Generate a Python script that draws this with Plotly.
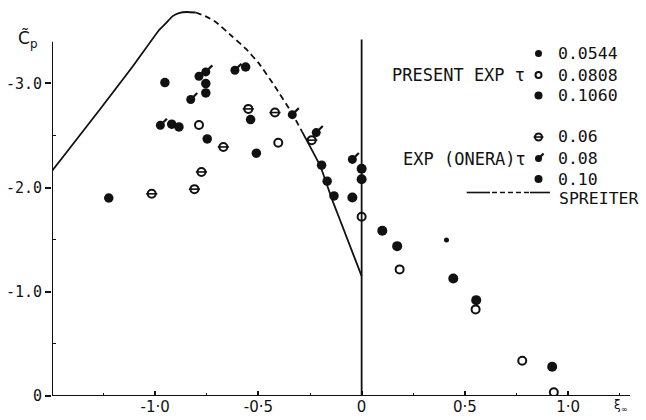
import plotly.graph_objects as go

# ---------------- data ----------------
# Spreiter theory curve
spreiter_x = [-1.5, -1.433, -1.272, -1.111, -0.982, -0.949, -0.917, -0.885, -0.845, -0.804,
              -0.755, -0.707, -0.627, -0.56, -0.497, -0.42, -0.336, -0.288, -0.199, -0.142, -0.115, 0.0]
spreiter_y = [-2.16, -2.33, -2.74, -3.157, -3.51, -3.575, -3.643, -3.675, -3.685, -3.68,
              -3.643, -3.589, -3.45, -3.33, -3.19, -2.97, -2.71, -2.534, -2.20, -1.879, -1.742, -1.15]
dash_start, dash_end = -0.79, -0.288

# Present experiments
p0544_x = [0.411]
p0544_y = [-1.496]
p0808_x = [-0.788, -0.404, 0.0, 0.184, 0.552, 0.778, 0.931]
p0808_y = [-2.60, -2.43, -1.72, -1.215, -0.831, -0.338, -0.035]
p1060_x = [0.10, 0.172, 0.444, 0.555, 0.923, -0.045, 0.0, 0.0]
p1060_y = [-1.585, -1.438, -1.128, -0.92, -0.281, -1.905, -2.18, -2.08]

# ONERA experiments
o06_x = [-1.017, -0.81, -0.776, -0.67, -0.549, -0.42, -0.242]
o06_y = [-1.94, -1.985, -2.15, -2.39, -2.755, -2.72, -2.455]
o08_x = [-0.828, -0.788, -0.755, -0.614, -0.336, -0.22, -0.045, -0.975]
o08_y = [-2.845, -3.068, -3.11, -3.126, -2.70, -2.528, -2.27, -2.598]
o10_x = [-1.225, -0.953, -0.92, -0.885, -0.755, -0.755, -0.562, -0.538, -0.51,
         -0.748, -0.194, -0.167, -0.134]
o10_y = [-1.90, -3.008, -2.608, -2.582, -2.998, -2.908, -3.157, -2.653, -2.33,
         -2.467, -2.215, -2.061, -1.92]

x_tickvals = [-1.0, -0.5, 0.0, 0.5, 1.0]
x_ticktext = ["-1·0", "-0·5", "0", "0·5", "1·0"]
y_tickvals = [0.0, -1.0, -2.0, -3.0]
y_ticktext = ["0", "-1.0", "-2.0", "-3.0"]

present_labels = ["0.0544", "0.0808", "0.1060"]
onera_labels = ["0.06", "0.08", "0.10"]

# ---------------- figure ----------------
FONT = "DejaVu Sans"
MONO = "DejaVu Sans Mono"
BLACK = "#111111"
fig = go.Figure()

# curve segments (solid / dashed / solid)
seg1 = [(x, y) for x, y in zip(spreiter_x, spreiter_y) if x <= dash_start]
seg2 = [(x, y) for x, y in zip(spreiter_x, spreiter_y) if dash_start - 0.02 <= x <= dash_end]
seg3 = [(x, y) for x, y in zip(spreiter_x, spreiter_y) if x >= dash_end]
for seg, dash in [(seg1, "solid"), (seg2, "6px,4px"), (seg3, "solid")]:
    fig.add_trace(go.Scatter(x=[p[0] for p in seg], y=[p[1] for p in seg], mode="lines",
                             line=dict(color=BLACK, width=1.8, dash=dash, shape="spline", smoothing=0.3),
                             showlegend=False, hoverinfo="skip"))


def filled(x, y, size, xa="x", ya="y"):
    fig.add_trace(go.Scatter(x=x, y=y, mode="markers", xaxis=xa, yaxis=ya,
                             marker=dict(symbol="circle", size=size, color=BLACK, line=dict(width=0)),
                             showlegend=False, hoverinfo="skip"))


def opencirc(x, y, size, xa="x", ya="y"):
    fig.add_trace(go.Scatter(x=x, y=y, mode="markers", xaxis=xa, yaxis=ya,
                             marker=dict(symbol="circle-open", size=size, color=BLACK,
                                         line=dict(width=2, color=BLACK)),
                             showlegend=False, hoverinfo="skip"))


def theta(x, y, size, xa="x", ya="y"):
    opencirc(x, y, size, xa, ya)
    fig.add_trace(go.Scatter(x=x, y=y, mode="markers", xaxis=xa, yaxis=ya,
                             marker=dict(symbol="line-ew", size=size, color=BLACK,
                                         line=dict(width=1.6, color=BLACK)),
                             showlegend=False, hoverinfo="skip"))


def flag(x, y, size, xa="x", ya="y"):
    filled(x, y, size, xa, ya)
    fig.add_trace(go.Scatter(x=x, y=y, mode="markers", xaxis=xa, yaxis=ya,
                             marker=dict(symbol="line-ns", size=size * 0.75, angle=225, standoff=size * 0.5,
                                         color=BLACK, line=dict(width=2.2, color=BLACK)),
                             showlegend=False, hoverinfo="skip"))


filled(p0544_x, p0544_y, 5)
opencirc(p0808_x, p0808_y, 8)
filled(p1060_x, p1060_y, 10)
theta(o06_x, o06_y, 8)
flag(o08_x, o08_y, 9)
filled(o10_x, o10_y, 9.5)

# ---- legend (drawn on an overlay 0..1 axis) ----
W0, W1, H1 = 52, 630, 396


def px(xp):
    return (xp - W0) / (W1 - W0)


def py(yp):
    return (H1 - yp) / H1


sym_x = px(538.5)
rows_p = [py(53.5), py(75), py(95.5)]
rows_o = [py(137), py(158.5), py(179)]
filled([sym_x], [rows_p[0]], 7, "x2", "y2")
opencirc([sym_x], [rows_p[1]], 6, "x2", "y2")
filled([sym_x], [rows_p[2]], 8, "x2", "y2")
theta([sym_x], [rows_o[0]], 7, "x2", "y2")
flag([sym_x], [rows_o[1]], 7, "x2", "y2")
filled([sym_x], [rows_o[2]], 8, "x2", "y2")

annotations = []
for lab, yy in zip(present_labels + onera_labels, rows_p + rows_o):
    annotations.append(dict(x=px(556), y=yy, xref="paper", yref="paper", text=lab, showarrow=False,
                            xanchor="left", yanchor="middle", font=dict(family=MONO, size=16.5, color=BLACK)))
annotations.append(dict(x=px(527), y=rows_p[1], xref="paper", yref="paper", text="PRESENT EXP τ",
                        showarrow=False, xanchor="right", yanchor="middle",
                        font=dict(family=MONO, size=17, color=BLACK)))
annotations.append(dict(x=px(528), y=rows_o[1], xref="paper", yref="paper", text="EXP (ONERA)τ",
                        showarrow=False, xanchor="right", yanchor="middle",
                        font=dict(family=MONO, size=17, color=BLACK)))
annotations.append(dict(x=px(557), y=py(198), xref="paper", yref="paper", text="SPREITER",
                        showarrow=False, xanchor="left", yanchor="middle",
                        font=dict(family=MONO, size=16.5, color=BLACK)))
annotations.append(dict(x=-0.043, y=py(40), xref="paper", yref="paper", text="C̃<sub>p</sub>",
                        showarrow=False, xanchor="center", yanchor="middle",
                        font=dict(family=FONT, size=17, color=BLACK)))
annotations.append(dict(x=px(621), y=py(406), xref="paper", yref="paper", text="ξ<sub>∞</sub>",
                        showarrow=False, xanchor="center", yanchor="middle",
                        font=dict(family=FONT, size=12, color=BLACK)))

shapes = [
    # frame lines
    dict(type="line", xref="x", yref="y", x0=-1.5, x1=-1.5, y0=0, y1=-3.4, line=dict(color=BLACK, width=2)),
    dict(type="line", xref="x", yref="y", x0=0, x1=0, y0=0, y1=-3.42, line=dict(color=BLACK, width=1.8)),
    dict(type="line", xref="x", yref="y", x0=-1.5, x1=1.3, y0=0, y1=0, line=dict(color=BLACK, width=2)),
    # SPREITER legend line: solid - dashed - solid
    dict(type="line", xref="paper", yref="paper", x0=px(466.7), x1=px(490), y0=py(192.5), y1=py(192.5),
         line=dict(color=BLACK, width=1.6)),
    dict(type="line", xref="paper", yref="paper", x0=px(492), x1=px(529), y0=py(192.5), y1=py(192.5),
         line=dict(color=BLACK, width=1.6, dash="5px,3px")),
    dict(type="line", xref="paper", yref="paper", x0=px(530), x1=px(550), y0=py(192.5), y1=py(192.5),
         line=dict(color=BLACK, width=1.6)),
]

fig.update_layout(
    width=646, height=420,
    margin=dict(l=W0, r=646 - W1, t=0, b=420 - H1),
    paper_bgcolor="white", plot_bgcolor="white",
    showlegend=False,
    font=dict(family=FONT, size=16, color=BLACK),
    xaxis=dict(range=[-1.5, 1.3], showgrid=False, zeroline=False, showline=False,
               tickvals=x_tickvals, ticktext=x_ticktext, ticks="inside", ticklen=5, tickwidth=1.5,
               tickcolor=BLACK, tickfont=dict(family=FONT, size=15, color=BLACK),
               minor=dict(tickvals=[-1.25, -0.75, -0.25, 0.25, 0.75, 1.25], ticks="inside",
                          ticklen=3, tickwidth=1.2, tickcolor=BLACK)),
    yaxis=dict(range=[0, -3.8], showgrid=False, zeroline=False, showline=False,
               tickvals=y_tickvals, ticktext=y_ticktext, ticks="outside", ticklen=6, tickwidth=1.5,
               tickcolor=BLACK, tickfont=dict(family=MONO, size=15, color=BLACK),
               minor=dict(tickvals=[-0.5, -1.5, -2.5], ticks="inside", ticklen=4, tickwidth=1.2,
                          tickcolor=BLACK)),
    xaxis2=dict(range=[0, 1], overlaying="x", visible=False, domain=[0, 1]),
    yaxis2=dict(range=[0, 1], overlaying="y", visible=False),
    annotations=annotations,
    shapes=shapes,
)

fig.write_html("out.html")
